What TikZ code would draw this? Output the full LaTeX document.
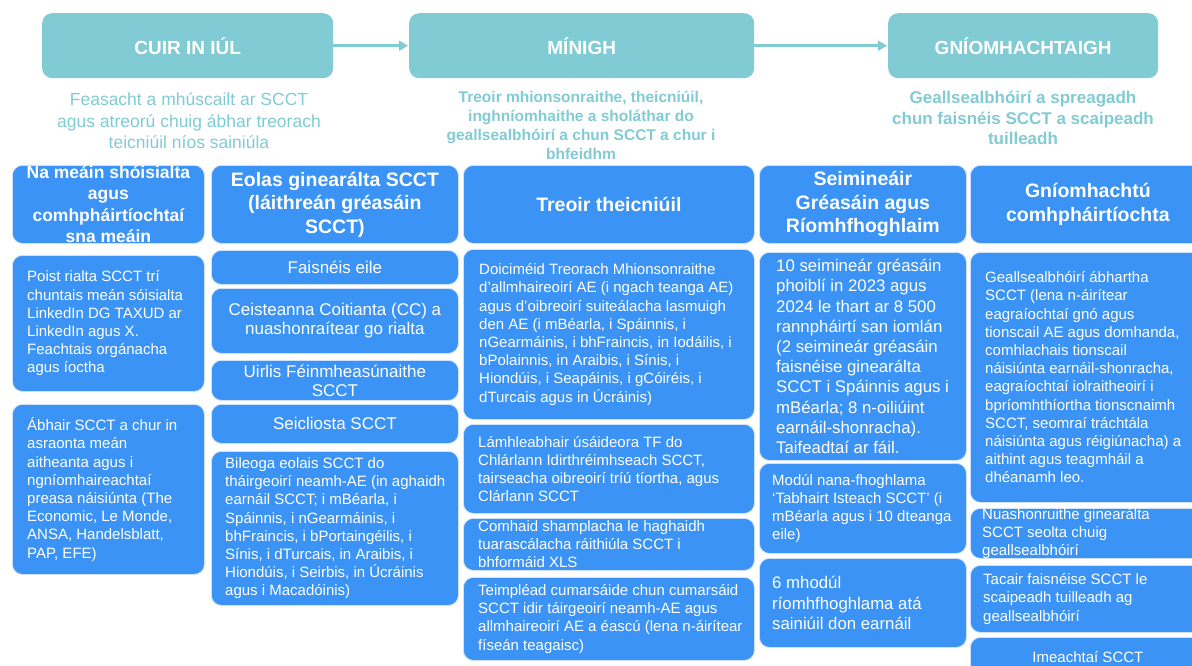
\documentclass[tikz,border=0pt]{standalone}
\usepackage{fontspec}
\setmainfont{Liberation Sans}
\usetikzlibrary{arrows.meta}
\definecolor{tealC}{RGB}{129,203,212}
\definecolor{blueC}{RGB}{58,147,245}
\definecolor{bordC}{RGB}{205,225,250}
\newcommand\zzbody{\fontsize{15}{18.2}\selectfont}
\newcommand\zzmid{\fontsize{17}{19}\selectfont}
\newcommand\zzbig{\fontsize{16.8}{20.2}\selectfont}
\newcommand\zzhead{\bfseries\fontsize{19.5}{23.5}\selectfont}
\newcommand\zznh{\bfseries\fontsize{17.5}{21.5}\selectfont}
\tikzset{
  bbox/.style={draw=bordC, line width=0.8pt, fill=blueC, rounded corners=10pt, anchor=north west, inner sep=0pt},
  btxt/.style={text=white, inner sep=0pt},
  hbox/.style={fill=tealC, rounded corners=10pt, anchor=north west, inner sep=0pt, text=white, font=\bfseries\fontsize{19}{22}\selectfont},
  subtxt/.style={text=tealC, align=center, inner sep=0pt},
  arr/.style={draw=tealC, line width=3pt, -{Triangle[length=9pt,width=10pt]}, shorten >=1pt}
}
% name x y w h pad font text
\newcommand\lbox[8]{%
  \node[bbox, minimum width=#4pt, minimum height=#5pt] (#1) at (#2,#3) {};
  \node[btxt, font=#7, anchor=west, align=left] (#1t) at ([xshift=#6pt]#1.west) {#8};}
% name x y w h font text
\newcommand\cbox[7]{%
  \node[bbox, minimum width=#4pt, minimum height=#5pt] (#1) at (#2,#3) {};
  \node[btxt, font=#6, align=center] (#1t) at (#1.center) {#7};}
\begin{document}
\begin{tikzpicture}[x=1pt,y=-1pt]
\path[use as bounding box] (0,0) rectangle (1192,666);
\fill[white] (0,0) rectangle (1192,666);
\clip (0,0) rectangle (1192,666);

% top stage boxes
\node[hbox, minimum width=291pt, minimum height=65pt] (h1) at (42,13) {CUIR IN IÚL};
\node[hbox, minimum width=345pt, minimum height=65pt] (h2) at (409,13) {MÍNIGH};
\node[hbox, minimum width=270pt, minimum height=65pt] (h3) at (888,13) {GNÍOMHACHTAIGH};
\draw[arr] (h1.east) -- (h2.west);
\draw[arr] (h2.east) -- (h3.west);

% subtitles
\node[subtxt, font=\fontsize{17.5}{21.5}\selectfont] (s1) at (189,121) {Feasacht a mhúscailt ar SCCT\\agus atreorú chuig ábhar treorach\\teicniúil níos sainiúla};
\node[subtxt, font=\bfseries\fontsize{15.5}{19}\selectfont] (s2) at (581,125.5) {Treoir mhionsonraithe, theicniúil,\\inghníomhaithe a sholáthar do\\geallsealbhóirí a chun SCCT a chur i\\bhfeidhm};
\node[subtxt, font=\bfseries\fontsize{17}{20.5}\selectfont] (s3) at (1023,118) {Geallsealbhóirí a spreagadh\\chun faisnéis SCCT a scaipeadh\\tuilleadh};

% column 1
\cbox{n1h}{12}{165}{192}{78}{\zznh}{Na meáin shóisialta\\agus\\comhpháirtíochtaí\\sna meáin}
\lbox{n1a}{12}{255}{192}{136}{15}{\zzbody}{Poist rialta SCCT trí\\chuntais meán sóisialta\\LinkedIn DG TAXUD ar\\LinkedIn agus X.\\Feachtais orgánacha\\agus íoctha}
\lbox{n1b}{12}{404}{192}{170}{15}{\zzbody}{Ábhair SCCT a chur in\\asraonta meán\\aitheanta agus i\\ngníomhaireachtaí\\preasa náisiúnta (The\\Economic, Le Monde,\\ANSA, Handelsblatt,\\PAP, EFE)}

% column 2
\cbox{n2h}{211}{165}{247}{78}{\zzhead}{Eolas ginearálta SCCT\\(láithreán gréasáin\\SCCT)}
\cbox{n2a}{211}{250}{247}{34}{\zzmid}{Faisnéis eile}
\cbox{n2b}{211}{288}{247}{65}{\zzmid}{Ceisteanna Coitianta (CC) a\\nuashonraítear go rialta}
\cbox{n2c}{211}{360}{247}{40}{\zzmid}{Uirlis Féinmheasúnaithe\\SCCT}
\cbox{n2d}{211}{404}{247}{39}{\zzmid}{Seicliosta SCCT}
\lbox{n2e}{211}{451}{247}{154}{14}{\zzbody}{Bileoga eolais SCCT do\\tháirgeoirí neamh-AE (in aghaidh\\earnáil SCCT; i mBéarla, i\\Spáinnis, i nGearmáinis, i\\bhFraincis, i bPortaingéilis, i\\Sínis, i dTurcais, in Araibis, i\\Hiondúis, i Seirbis, in Úcráinis\\agus i Macadóinis)}

% column 3
\cbox{n3h}{463}{165}{291}{78}{\zzhead}{Treoir theicniúil}
\lbox{n3a}{463}{249}{291}{170}{16}{\zzbody}{Doiciméid Treorach Mhionsonraithe\\d’allmhaireoirí AE (i ngach teanga AE)\\agus d’oibreoirí suiteálacha lasmuigh\\den AE (i mBéarla, i Spáinnis, i\\nGearmáinis, i bhFraincis, in Iodáilis, i\\bPolainnis, in Araibis, i Sínis, i\\Hiondúis, i Seapáinis, i gCóiréis, i\\dTurcais agus in Úcráinis)}
\lbox{n3b}{463}{424}{291}{89}{15}{\zzbody}{Lámhleabhair úsáideora TF do\\Chlárlann Idirthréimhseach SCCT,\\tairseacha oibreoirí tríú tíortha, agus\\Clárlann SCCT}
\lbox{n3c}{463}{518}{291}{52}{15}{\zzbody}{Comhaid shamplacha le haghaidh\\tuarascálacha ráithiúla SCCT i\\bhformáid XLS}
\lbox{n3d}{463}{577}{291}{83}{15}{\zzbody}{Teimpléad cumarsáide chun cumarsáid\\SCCT idir táirgeoirí neamh-AE agus\\allmhaireoirí AE a éascú (lena n-áirítear\\físeán teagaisc)}

% column 4
\cbox{n4h}{759}{165}{207}{78}{\zzhead}{Seimineáir\\Gréasáin agus\\Ríomhfhoghlaim}
\lbox{n4a}{759}{252}{207}{208}{17}{\zzbig}{10 seimineár gréasáin\\phoiblí in 2023 agus\\2024 le thart ar 8 500\\rannpháirtí san iomlán\\(2 seimineár gréasáin\\faisnéise ginearálta\\SCCT i Spáinnis agus i\\mBéarla; 8 n-oiliúint\\earnáil-shonracha).\\Taifeadtaí ar fáil.}
\lbox{n4b}{759}{463}{207}{90}{13}{\zzbody}{Modúl nana-fhoghlama\\‘Tabhairt Isteach SCCT’ (i\\mBéarla agus i 10 dteanga\\eile)}
\lbox{n4c}{759}{558}{207}{89}{13}{\zzbig}{6 mhodúl\\ríomhfhoghlama atá\\sainiúil don earnáil}

% column 5
\cbox{n5h}{970}{165}{235}{78}{\zzhead}{Gníomhachtú\\comhpháirtíochta}
\lbox{n5a}{970}{252}{235}{250}{15}{\zzbody}{Geallsealbhóirí ábhartha\\SCCT (lena n-áirítear\\eagraíochtaí gnó agus\\tionscail AE agus domhanda,\\comhlachais tionscail\\náisiúnta earnáil-shonracha,\\eagraíochtaí iolraitheoirí i\\bpríomhthíortha tionscnaimh\\SCCT, seomraí tráchtála\\náisiúnta agus réigiúnacha) a\\aithint agus teagmháil a\\dhéanamh leo.}
\lbox{n5b}{970}{508}{235}{50}{12}{\zzbody}{Nuashonruithe ginearálta\\SCCT seolta chuig\\geallsealbhóirí}
\lbox{n5c}{970}{565}{235}{67}{13}{\zzbody}{Tacair faisnéise SCCT le\\scaipeadh tuilleadh ag\\geallsealbhóirí}
\cbox{n5d}{970}{637}{235}{40}{\zzbody}{Imeachtaí SCCT}
\end{tikzpicture}
\end{document}
